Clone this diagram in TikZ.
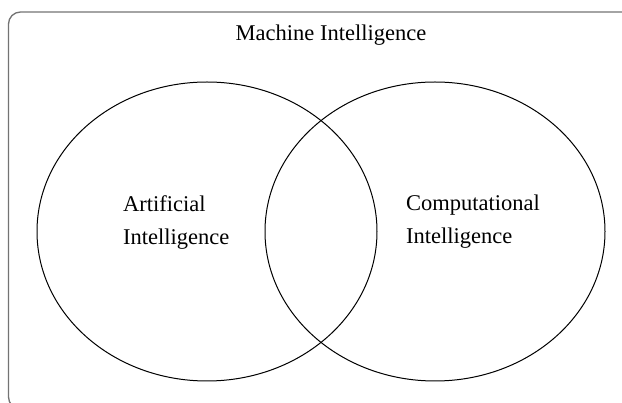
\documentclass[tikz,border=0pt]{standalone}
\usepackage{fontspec}
\setmainfont{Liberation Serif}
\begin{document}
\begin{tikzpicture}[x=1pt,y=-1pt,
  frame/.style={draw=black!55, line width=1.3pt, rounded corners=12pt},
  venn/.style={draw=black, line width=1pt},
  lbl/.style={inner sep=0pt, font=\fontsize{22.5}{33}\selectfont, align=left}]
\useasboundingbox (0,0) rectangle (622,403);
\begin{scope}
  \clip (0,0) rectangle (622,403);
  \draw[frame] (8.5,12) rectangle (640,409);
\end{scope}
\draw[venn] (207,231.5) ellipse [x radius=170, y radius=149.5];
\draw[venn] (435,231.5) ellipse [x radius=170, y radius=149.5];
\node[lbl, anchor=base] (mi) at (331,41) {Machine Intelligence};
\node[lbl, anchor=north west] (ai) at (123,195) {Artificial\\Intelligence};
\node[lbl, anchor=north west] (ci) at (406,195) {Computational\\Intelligence};
\end{tikzpicture}
\end{document}
